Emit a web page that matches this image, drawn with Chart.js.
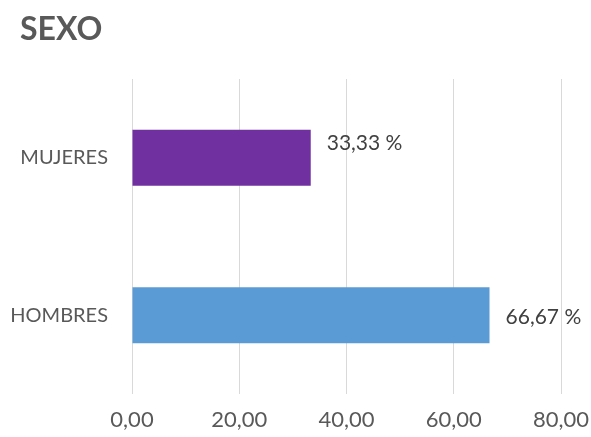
<!DOCTYPE html>
<html>
<head>
<meta charset="utf-8">
<script src="https://cdn.jsdelivr.net/npm/chart.js@4.4.1/dist/chart.umd.min.js"></script>
<style>
  html, body { margin: 0; padding: 0; background: #fff; }
  #wrap { width: 591px; height: 437px; }
</style>
</head>
<body>
<div id="wrap"><canvas id="grafSexo"></canvas></div>
<script>
// datos
const categorias = ["MUJERES", "HOMBRES"];
const porcentajes = [33.33, 66.67];
const colores = ["#7030A0", "#5B9BD5"];
const ticksX = [0, 20, 40, 60, 80];
const titulo = "SEXO";

const FUENTE = "Lato, 'Open Sans', sans-serif";
const GRIS = "#595959";

const fmt = v => v.toFixed(2).replace('.', ',');

// titulo arriba a la izquierda
const tituloPlugin = {
  id: 'tituloPlugin',
  afterDraw(chart, args, opts) {
    const ctx = chart.ctx;
    ctx.save();
    ctx.font = opts.font;
    ctx.fillStyle = opts.color;
    ctx.textAlign = 'left';
    ctx.textBaseline = 'middle';
    ctx.fillText(titulo, opts.x, opts.y);
    ctx.restore();
  }
};

// etiquetas al final de cada barra
const etiquetas = {
  id: 'etiquetas',
  afterDatasetsDraw(chart, args, opts) {
    const ctx = chart.ctx;
    const meta = chart.getDatasetMeta(0);
    ctx.save();
    ctx.font = opts.font;
    ctx.fillStyle = opts.color;
    ctx.textAlign = 'left';
    ctx.textBaseline = 'middle';
    meta.data.forEach((bar, i) => {
      const dy = (opts.shiftY && opts.shiftY[i]) || 0;
      ctx.fillText(fmt(porcentajes[i]) + ' %', bar.x + opts.offset, bar.y + dy);
    });
    ctx.restore();
  }
};

new Chart(document.getElementById('grafSexo'), {
  type: 'bar',
  data: {
    labels: categorias,
    datasets: [{
      data: porcentajes,
      backgroundColor: colores,
      borderWidth: 0,
      categoryPercentage: 1,
      barPercentage: 0.356
    }]
  },
  options: {
    indexAxis: 'y',
    responsive: true,
    maintainAspectRatio: false,
    animation: false,
    layout: { padding: { left: 0, right: 30, top: 79, bottom: 0 } },
    plugins: {
      legend: { display: false },
      tooltip: { enabled: false },
      title: { display: false },
      tituloPlugin: {
        font: "bold 32px " + FUENTE,
        color: GRIS,
        x: 20,
        y: 30
      },
      etiquetas: {
        font: "21px " + FUENTE,
        color: "#404040",
        offset: 16,
        shiftY: [-15, 2]
      }
    },
    scales: {
      x: {
        min: 0,
        max: 80,
        afterBuildTicks: axis => { axis.ticks = ticksX.map(v => ({ value: v })); },
        afterFit: axis => {
          axis.height = 43;
          axis.paddingLeft = 0;
          axis.paddingRight = 0;
        },
        grid: { color: '#d9d9d9', lineWidth: 1, drawTicks: false },
        border: { display: false },
        ticks: {
          padding: 13,
          color: GRIS,
          font: { family: FUENTE, size: 22 },
          callback: v => fmt(v)
        }
      },
      y: {
        afterFit: axis => { axis.width = 132; },
        grid: { display: false },
        border: { display: false },
        ticks: {
          padding: 16,
          color: GRIS,
          font: { family: FUENTE, size: 20 }
        }
      }
    }
  },
  plugins: [tituloPlugin, etiquetas]
});
</script>
</body>
</html>
